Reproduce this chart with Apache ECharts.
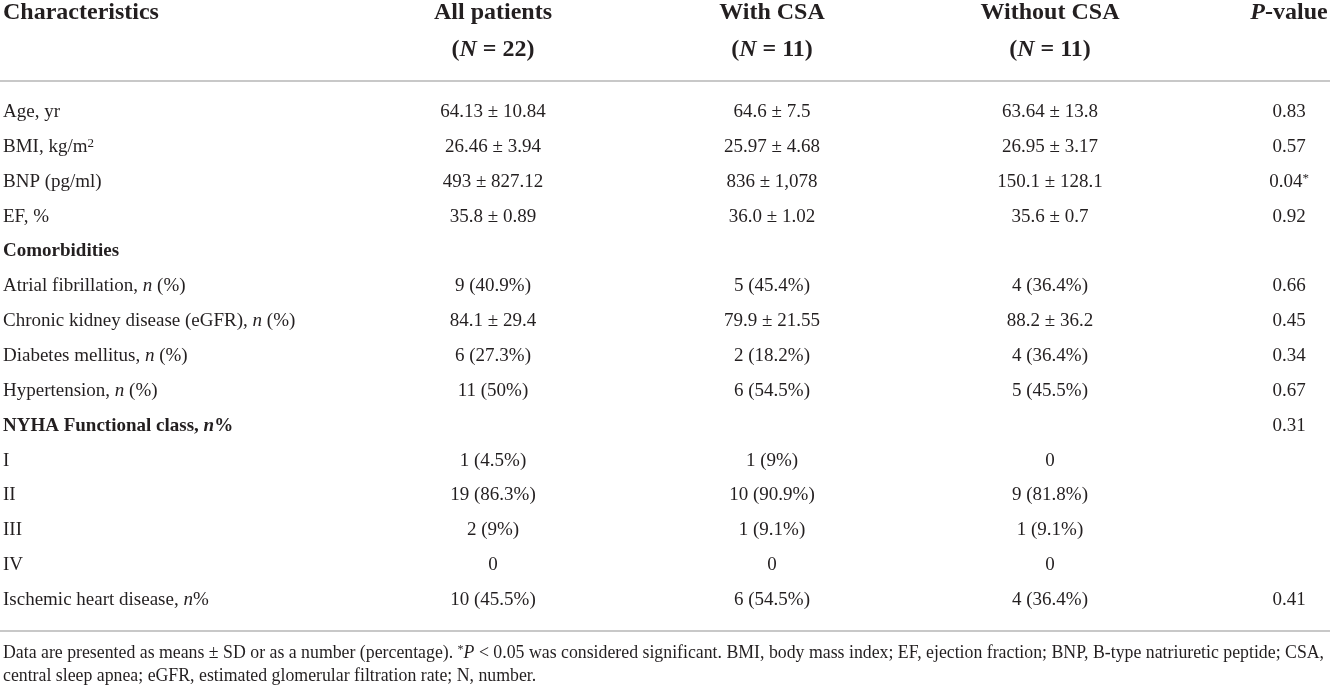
<!DOCTYPE html>
<html>
<head>
<meta charset="utf-8">
<script src="https://cdn.jsdelivr.net/npm/echarts@6/dist/echarts.min.js"></script>
<style>
html, body { margin: 0; padding: 0; background: #fff; }
#main { width: 1330px; height: 690px; }
</style>
</head>
<body>
<div id="main"></div>
<script>
// table content
var headers = ['Characteristics', 'All patients', 'With CSA', 'Without CSA', '{bi|P}-value'];
var groupSizes = ['', '({bi|N} = 22)', '({bi|N} = 11)', '({bi|N} = 11)', ''];
var characteristics = [
  'Age, yr',
  'BMI, kg/m{sup|2}',
  'BNP (pg/ml)',
  'EF, %',
  'Comorbidities',
  'Atrial fibrillation, {i|n} (%)',
  'Chronic kidney disease (eGFR), {i|n} (%)',
  'Diabetes mellitus, {i|n} (%)',
  'Hypertension, {i|n} (%)',
  'NYHA Functional class, {bi|n}%',
  'I',
  'II',
  'III',
  'IV',
  'Ischemic heart disease, {i|n}%'
];
var allPatients = ['64.13 ± 10.84', '26.46 ± 3.94', '493 ± 827.12', '35.8 ± 0.89', '',
  '9 (40.9%)', '84.1 ± 29.4', '6 (27.3%)', '11 (50%)', '',
  '1 (4.5%)', '19 (86.3%)', '2 (9%)', '0', '10 (45.5%)'];
var withCSA = ['64.6 ± 7.5', '25.97 ± 4.68', '836 ± 1,078', '36.0 ± 1.02', '',
  '5 (45.4%)', '79.9 ± 21.55', '2 (18.2%)', '6 (54.5%)', '',
  '1 (9%)', '10 (90.9%)', '1 (9.1%)', '0', '6 (54.5%)'];
var withoutCSA = ['63.64 ± 13.8', '26.95 ± 3.17', '150.1 ± 128.1', '35.6 ± 0.7', '',
  '4 (36.4%)', '88.2 ± 36.2', '4 (36.4%)', '5 (45.5%)', '',
  '0', '9 (81.8%)', '1 (9.1%)', '0', '4 (36.4%)'];
var pValues = ['0.83', '0.57', '0.04{sup|*}', '0.92', '',
  '0.66', '0.45', '0.34', '0.67', '0.31',
  '', '', '', '', '0.41'];
var boldRows = [4, 9];
var footnotes = [
  'Data are presented as means ± SD or as a number (percentage). {sup|*}{i|P} < 0.05 was considered significant. BMI, body mass index; EF, ejection fraction; BNP, B-type natriuretic peptide; CSA,',
  'central sleep apnea; eGFR, estimated glomerular filtration rate; N, number.'
];

// layout
var FONT = 'Liberation Serif';
var INK = '#231f20';
var colAnchor = [3, 493, 772, 1050, 1289];
var headerRows = [-2.84, -1.78];
var ruleRows = [-0.89, 14.89];
var footRows = [15.52, 16.2];

function richFor(size, weight) {
  return {
    i: { fontFamily: FONT, fontSize: size, fontStyle: 'italic', fontWeight: weight, fill: INK },
    bi: { fontFamily: FONT, fontSize: size, fontStyle: 'italic', fontWeight: 'bold', fill: INK },
    sup: { fontFamily: FONT, fontSize: Math.round(size * 0.66), fontWeight: weight, fill: INK, verticalAlign: 'top' }
  };
}

function textSeries(texts, col, rows, size, weightFn, align) {
  return {
    type: 'custom',
    silent: true,
    data: texts.map(function (t, i) { return [colAnchor[col], rows ? rows[i] : i]; }),
    renderItem: function (params, api) {
      var p = api.coord([api.value(0), api.value(1)]);
      var w = weightFn(params.dataIndex);
      return {
        type: 'text',
        x: p[0],
        y: p[1],
        style: {
          text: texts[params.dataIndex],
          fontFamily: FONT,
          fontSize: size,
          fontWeight: w,
          fill: INK,
          align: align,
          verticalAlign: 'middle',
          rich: richFor(size, w)
        }
      };
    }
  };
}

function normal() { return 'normal'; }
function bold() { return 'bold'; }

var chart = echarts.init(document.getElementById('main'));
var series = [];

// header lines, one series per column
headers.forEach(function (h, c) {
  series.push(textSeries([h, groupSizes[c]], c, headerRows, 24, bold, c === 0 ? 'left' : 'center'));
});

// body columns
series.push(textSeries(characteristics, 0, null, 19, function (i) {
  return boldRows.indexOf(i) >= 0 ? 'bold' : 'normal';
}, 'left'));
series.push(textSeries(allPatients, 1, null, 19, normal, 'center'));
series.push(textSeries(withCSA, 2, null, 19, normal, 'center'));
series.push(textSeries(withoutCSA, 3, null, 19, normal, 'center'));
series.push(textSeries(pValues, 4, null, 19, normal, 'center'));

// footnote + rules
var foot = textSeries(footnotes, 0, footRows, 17.8, normal, 'left');
foot.markLine = {
  silent: true,
  symbol: ['none', 'none'],
  label: { show: false },
  lineStyle: { color: '#c8c8c8', width: 2, type: 'solid' },
  data: ruleRows.map(function (r) { return { yAxis: r }; })
};
series.push(foot);

chart.setOption({
  animation: false,
  backgroundColor: '#ffffff',
  grid: { left: 0, right: 0, top: 0, bottom: 0 },
  xAxis: { type: 'value', min: 0, max: 1330, show: false },
  yAxis: { type: 'value', inverse: true, min: -3.213, max: 16.582, show: false },
  series: series
});
</script>
</body>
</html>
